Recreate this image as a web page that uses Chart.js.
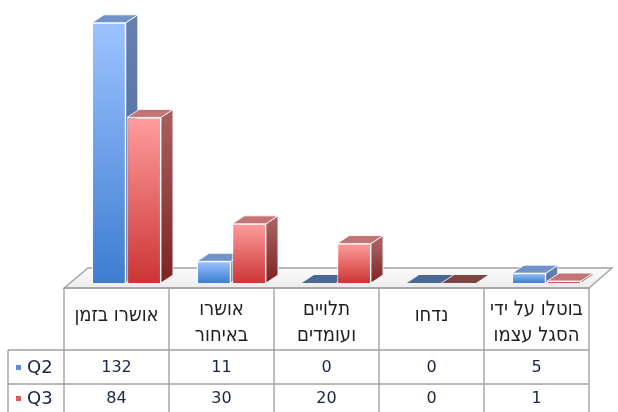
<!DOCTYPE html>
<html><head><meta charset="utf-8">
<script src="https://cdn.jsdelivr.net/npm/chart.js@4/dist/chart.umd.min.js"></script>
<style>html,body{margin:0;padding:0;background:#fff}</style>
</head><body>
<canvas id="c" width="618" height="412"></canvas>
<script>
const categories = [["אושרו בזמן"], ["אושרו", "באיחור"], ["תלויים", "ועומדים"], ["נדחו"], ["בוטלו על ידי", "הסגל עצמו"]];
const seriesNames = ["Q2", "Q3"];
const q2Values = [132, 11, 0, 0, 5];
const q3Values = [84, 30, 20, 0, 1];
const yMax = 140;

const palette = [
  {light:'#9cc3ff', dark:'#3d7dd0', side1:'#6480b0', side2:'#4a6792', top:'#7293c8', zero:'#4a6894', key:'#5b8fde'},
  {light:'#ff9d9d', dark:'#cc3535', side1:'#a85e5e', side2:'#7e2222', top:'#c47474', zero:'#7e4444', key:'#e05a5a'}
];
const DX = 12, DY = -8;
const HEAD_FONT = '20px "DejaVu Sans Condensed", "DejaVu Sans"';
const NUM_FONT = '16px "DejaVu Sans"';
const KEY_FONT = '18px "DejaVu Sans"';

function frontGradient(ctx, di) {
  const chart = ctx.chart;
  const area = chart.chartArea;
  if (!area || !chart.scales.y) return palette[di].dark;
  const y = chart.scales.y;
  const top = y.getPixelForValue(ctx.raw || 0);
  const base = y.getPixelForValue(0);
  if (base - top < 1) return palette[di].dark;
  const g = chart.ctx.createLinearGradient(0, top, 0, base);
  g.addColorStop(0, palette[di].light);
  g.addColorStop(1, palette[di].dark);
  return g;
}

const boxPlugin = {
  id: 'box3d',
  beforeDatasetsDraw(chart) {
    const c = chart.ctx, a = chart.chartArea, xs = chart.scales.x;
    const cw = xs.getPixelForValue(1) - xs.getPixelForValue(0);
    const L = xs.getPixelForValue(0) - cw / 2 - 10;
    const R = L + cw * categories.length;
    const F = a.bottom + 5;
    c.save();
    c.beginPath();
    c.moveTo(L, F); c.lineTo(R, F); c.lineTo(R + 23, F - 20); c.lineTo(L + 24, F - 20); c.closePath();
    const fg = c.createLinearGradient(0, F - 20, 0, F);
    fg.addColorStop(0, '#fbfbfb'); fg.addColorStop(1, '#ececec');
    c.fillStyle = fg; c.fill();
    c.strokeStyle = '#a3a3a3'; c.lineWidth = 1.4; c.stroke();
    const metas = chart.data.datasets.map((d, i) => chart.getDatasetMeta(i));
    for (let j = 0; j < categories.length; j++) {
      metas.forEach((meta, di) => {
        const el = meta.data[j];
        const p = el.getProps(['x', 'y', 'base', 'width'], true);
        const l = p.x - p.width / 2, r = p.x + p.width / 2, t = p.y, b = p.base;
        const col = palette[di];
        c.lineWidth = 1; c.strokeStyle = 'rgba(255,255,255,0.85)';
        if (b - t < 1) {
          c.beginPath();
          c.moveTo(l, b); c.lineTo(l + DX, b + DY); c.lineTo(r + DX, b + DY); c.lineTo(r, b); c.closePath();
          c.fillStyle = col.zero; c.fill();
          return;
        }
        c.beginPath();
        c.moveTo(r, t); c.lineTo(r + DX, t + DY); c.lineTo(r + DX, b + DY); c.lineTo(r, b); c.closePath();
        const sg = c.createLinearGradient(0, t, 0, b);
        sg.addColorStop(0, col.side1); sg.addColorStop(1, col.side2);
        c.fillStyle = sg; c.fill(); c.stroke();
        c.beginPath();
        c.moveTo(l, t); c.lineTo(l + DX, t + DY); c.lineTo(r + DX, t + DY); c.lineTo(r, t); c.closePath();
        c.fillStyle = col.top; c.fill(); c.stroke();
      });
    }
    c.restore();
  },
  afterDraw(chart) {
    const c = chart.ctx, a = chart.chartArea, xs = chart.scales.x;
    const cw = xs.getPixelForValue(1) - xs.getPixelForValue(0);
    const L = xs.getPixelForValue(0) - cw / 2 - 10;
    const R = L + cw * categories.length;
    const T = a.bottom + 5, H1 = T + 62, H2 = H1 + 34, H3 = H2 + 34;
    const legL = 8;
    const series = [q2Values, q3Values];
    c.save();
    c.strokeStyle = '#a3a3a3'; c.lineWidth = 1.4;
    c.beginPath();
    c.moveTo(L, T); c.lineTo(R, T);
    c.moveTo(legL, H1); c.lineTo(R, H1);
    c.moveTo(legL, H2); c.lineTo(R, H2);
    c.moveTo(legL, H3); c.lineTo(R, H3);
    for (let i = 0; i <= categories.length; i++) { c.moveTo(L + i * cw, T); c.lineTo(L + i * cw, H3); }
    c.moveTo(legL, H1); c.lineTo(legL, H3);
    c.stroke();
    c.fillStyle = '#1e1e1e';
    c.font = HEAD_FONT;
    c.textAlign = 'center'; c.textBaseline = 'middle';
    categories.forEach((lines, i) => {
      const cx = L + i * cw + cw / 2;
      c.save();
      c.beginPath(); c.rect(L + i * cw + 1, T + 1, cw - 2, H1 - T - 2); c.clip();
      if (lines.length === 1) c.fillText(lines[0], cx, T + 28);
      else { c.fillText(lines[0], cx, T + 22); c.fillText(lines[1], cx, T + 48); }
      c.restore();
    });
    series.forEach((vals, si) => {
      const ry = si === 0 ? H1 + 18 : H2 + 15;
      c.font = NUM_FONT; c.textAlign = 'center'; c.fillStyle = '#1c2540';
      vals.forEach((v, i) => c.fillText(String(v), L + i * cw + cw / 2, ry));
      c.fillStyle = palette[si].key;
      c.fillRect(legL + 8, ry - 3, 5, 5);
      c.fillStyle = '#1c2540';
      c.textAlign = 'left';
      c.font = KEY_FONT;
      c.fillText(seriesNames[si], legL + 19, ry);
    });
    c.restore();
  }
};

new Chart(document.getElementById('c'), {
  type: 'bar',
  data: {
    labels: categories,
    datasets: [
      {label: seriesNames[0], data: q2Values, backgroundColor: ctx => frontGradient(ctx, 0), borderColor: 'rgba(255,255,255,0.9)', borderWidth: 1},
      {label: seriesNames[1], data: q3Values, backgroundColor: ctx => frontGradient(ctx, 1), borderColor: 'rgba(255,255,255,0.9)', borderWidth: 1}
    ]
  },
  options: {
    responsive: false,
    animation: false,
    layout: {padding: {left: 74, right: 19, top: 7, bottom: 129}},
    datasets: {bar: {categoryPercentage: 0.67, barPercentage: 0.96}},
    scales: {
      x: {display: false},
      y: {display: false, min: 0, max: yMax}
    },
    plugins: {legend: {display: false}, tooltip: {enabled: false}}
  },
  plugins: [boxPlugin]
});
</script>
</body></html>
